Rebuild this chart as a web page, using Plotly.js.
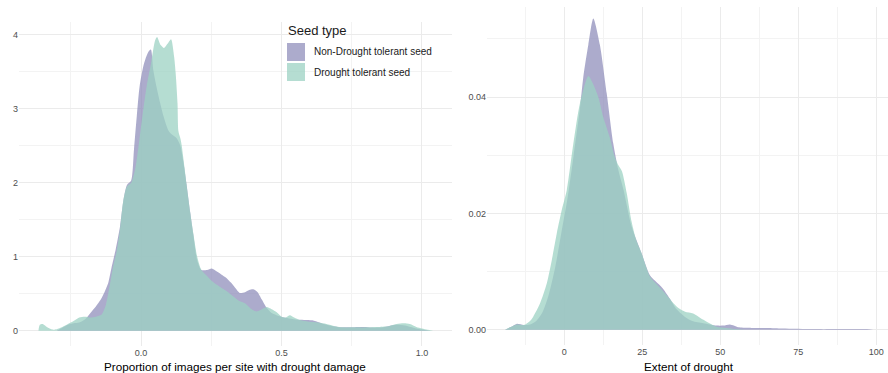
<!DOCTYPE html>
<html>
<head>
<meta charset="utf-8">
<script src="https://cdn.plot.ly/plotly-3.0.1.min.js"></script>
<style>html,body{margin:0;padding:0;background:#fff;}#chart{width:888px;height:373px;}</style>
</head>
<body>
<div id="chart"></div>
<script>
// ---------- DATA ----------
const seriesNames = ["Non-Drought tolerant seed", "Drought tolerant seed"];

// Left panel: proportion of images per site with drought damage (density)
const propNonX = [-0.30,-0.28,-0.26,-0.24,-0.22,-0.20,-0.18,-0.16,-0.145,-0.13,-0.117,-0.105,-0.09,-0.075,-0.063,-0.05,-0.035,-0.025,-0.015,-0.005,0.01,0.025,0.035,0.044,0.055,0.068,0.08,0.097,0.11,0.127,0.14,0.15,0.162,0.175,0.186,0.20,0.215,0.235,0.252,0.27,0.29,0.305,0.32,0.335,0.352,0.37,0.385,0.40,0.415,0.43,0.447,0.465,0.49,0.52,0.55,0.58,0.61,0.635,0.66,0.70,0.74,0.78,0.80,0.83,0.86,0.89,0.91,0.94,0.96,0.98,1.0,1.03];
const propNonY = [0,0.04,0.08,0.10,0.11,0.15,0.24,0.33,0.41,0.52,0.64,0.85,1.1,1.4,1.75,1.97,2.03,2.45,2.9,3.3,3.6,3.76,3.80,3.52,3.3,3.08,2.9,2.71,2.65,2.6,2.5,2.3,1.98,1.6,1.3,0.95,0.82,0.82,0.84,0.80,0.75,0.71,0.65,0.58,0.51,0.52,0.55,0.56,0.52,0.42,0.31,0.24,0.20,0.17,0.15,0.145,0.14,0.11,0.08,0.05,0.046,0.05,0.05,0.04,0.045,0.07,0.08,0.07,0.05,0.03,0.015,0];

const propDtX = [-0.365,-0.36,-0.35,-0.335,-0.315,-0.30,-0.28,-0.26,-0.24,-0.22,-0.20,-0.18,-0.16,-0.14,-0.125,-0.11,-0.10,-0.086,-0.075,-0.063,-0.05,-0.035,-0.02,-0.005,0.005,0.02,0.035,0.05,0.057,0.07,0.082,0.095,0.107,0.118,0.123,0.13,0.133,0.14,0.145,0.155,0.162,0.175,0.186,0.20,0.215,0.235,0.25,0.27,0.29,0.31,0.33,0.35,0.37,0.39,0.41,0.425,0.447,0.465,0.483,0.50,0.515,0.53,0.545,0.57,0.60,0.63,0.66,0.69,0.72,0.76,0.80,0.84,0.88,0.91,0.935,0.957,0.98,1.0,1.02,1.04];
const propDtY = [0,0.08,0.09,0.05,0.015,0.02,0.05,0.09,0.13,0.18,0.19,0.18,0.19,0.22,0.35,0.64,0.85,1.09,1.36,1.76,1.95,2.0,2.2,2.6,2.9,3.3,3.6,3.92,3.97,3.86,3.82,3.88,3.94,3.7,3.5,3.07,2.7,2.6,2.5,2.2,1.98,1.6,1.32,1.0,0.82,0.74,0.68,0.62,0.57,0.52,0.46,0.40,0.37,0.30,0.26,0.28,0.32,0.29,0.25,0.19,0.18,0.21,0.18,0.14,0.12,0.11,0.09,0.06,0.045,0.045,0.045,0.05,0.06,0.09,0.10,0.09,0.05,0.03,0.012,0];

// Right panel: extent of drought (density)
const extNonX = [-19,-17,-15.3,-13,-11,-9,-7,-5,-3,-1,1,3,5,6.1,7.7,9.3,11.4,13.6,15.7,17.3,19,21.6,24.8,27.5,30.7,32,34,36,38.7,41,44.6,48.8,51,53.1,56,60,65,70,80,90,97,99];
const extNonY = [0,0.0005,0.001,0.0008,0.0009,0.0015,0.003,0.006,0.0105,0.0165,0.0225,0.030,0.038,0.0435,0.049,0.0535,0.049,0.0406,0.032,0.0275,0.024,0.0177,0.0131,0.0093,0.0076,0.0068,0.0052,0.0035,0.0022,0.0015,0.0011,0.0007,0.0007,0.0009,0.0004,0.0003,0.0003,0.0002,0.0001,0.0001,0.0001,0];

const extDtX = [-19,-17,-15.3,-13,-11,-10,-7.8,-5.6,-4,-2.4,-0.8,0.8,2.9,5.0,7.7,9,10.9,12.5,14.6,16,17.3,18.5,20,21.6,23,24.8,27.5,30.7,33,36,38.7,41.3,44.6,48.8,52,55,58];
const extDtY = [0,0.0005,0.0009,0.0008,0.0015,0.0022,0.0045,0.008,0.012,0.0166,0.0206,0.024,0.032,0.0389,0.0436,0.0425,0.040,0.0365,0.033,0.030,0.0283,0.0272,0.0235,0.0185,0.0155,0.0131,0.0091,0.0072,0.0058,0.004,0.0031,0.0028,0.0017,0.0005,0.0003,0.0001,0];

// Tick labels
const propTickVals = [0, 0.5, 1.0];
const propTickText = ["0.0", "0.5", "1.0"];
const propMinorVals = [-0.25, 0.25, 0.75];
const densLeftTickVals = [0, 1, 2, 3, 4];
const densLeftTickText = ["0", "1", "2", "3", "4"];
const densLeftMinorVals = [0.5, 1.5, 2.5, 3.5];
const extTickVals = [0, 25, 50, 75, 100];
const extTickText = ["0", "25", "50", "75", "100"];
const extMinorVals = [-12.5, 12.5, 37.5, 62.5, 87.5];
const densRightTickVals = [0, 0.02, 0.04];
const densRightTickText = ["0.00", "0.02", "0.04"];
const densRightMinorVals = [0.01, 0.03, 0.05];

const xTitleLeft = "Proportion of images per site with drought damage";
const xTitleRight = "Extent of drought";
const legendTitle = "Seed type";

// ---------- STYLE ----------
const fillNon = "rgba(144,143,187,0.75)";
const fillDt = "rgba(156,210,195,0.75)";
const grid = "#EBEBEB";
const gridMinor = "#F3F3F3";
const tickFont = {family: "Liberation Sans, Arial, sans-serif", size: 9, color: "#4D4D4D"};

function area(x, y, color, xa, ya, name) {
  return {
    type: "scatter", mode: "lines", x: x, y: y, name: name,
    fill: "tozeroy", fillcolor: color,
    line: {width: 0, shape: "spline", smoothing: 0.7, color: color},
    xaxis: xa, yaxis: ya, showlegend: false, hoverinfo: "x+y+name"
  };
}

const traces = [
  area(propNonX, propNonY, fillNon, "x", "y", seriesNames[0]),
  area(propDtX, propDtY, fillDt, "x", "y", seriesNames[1]),
  area(extNonX, extNonY, fillNon, "x2", "y2", seriesNames[0]),
  area(extDtX, extDtY, fillDt, "x2", "y2", seriesNames[1])
];

function axisBase(extra) {
  return Object.assign({
    showline: false, zeroline: false, ticks: "", showgrid: true,
    gridcolor: grid, gridwidth: 1, tickfont: tickFont, tickmode: "array",
    fixedrange: true
  }, extra);
}

const layout = {
  width: 888, height: 373,
  margin: {l: 0, r: 0, t: 0, b: 0, pad: 0},
  paper_bgcolor: "#fff", plot_bgcolor: "rgba(0,0,0,0)",
  font: {family: "Liberation Sans, Arial, sans-serif"},
  xaxis: axisBase({domain: [19/888, 452/888], range: [-0.4342, 1.1068], anchor: "y",
    tickvals: propTickVals, ticktext: propTickText,
    minor: {tickvals: propMinorVals, showgrid: true, gridcolor: gridMinor, gridwidth: 1}}),
  yaxis: axisBase({domain: [1 - 345.5/373, 1 - 22/373], range: [-0.2, 4.1716], anchor: "x",
    tickvals: densLeftTickVals, ticktext: densLeftTickText,
    minor: {tickvals: densLeftMinorVals, showgrid: true, gridcolor: gridMinor, gridwidth: 1}}),
  xaxis2: axisBase({domain: [487/888, 1], range: [-24.776, 103.75], anchor: "y2",
    tickvals: extTickVals, ticktext: extTickText,
    minor: {tickvals: extMinorVals, showgrid: true, gridcolor: gridMinor, gridwidth: 1}}),
  yaxis2: axisBase({domain: [1 - 345.2/373, 1 - 7/373], range: [-0.002665, 0.05547], anchor: "x2",
    tickvals: densRightTickVals, ticktext: densRightTickText,
    minor: {tickvals: densRightMinorVals, showgrid: true, gridcolor: gridMinor, gridwidth: 1}}),
  shapes: [
    {type: "rect", xref: "paper", yref: "paper", layer: "between",
     x0: 272/888, x1: 445/888, y0: 1 - 103/373, y1: 1 - 18/373,
     fillcolor: "#fff", line: {width: 0}},
    {type: "rect", xref: "paper", yref: "paper", layer: "above",
     x0: 287/888, x1: 305/888, y0: 1 - 61/373, y1: 1 - 43/373,
     fillcolor: fillNon, line: {width: 0}},
    {type: "rect", xref: "paper", yref: "paper", layer: "above",
     x0: 287/888, x1: 305/888, y0: 1 - 81/373, y1: 1 - 63/373,
     fillcolor: fillDt, line: {width: 0}}
  ],
  annotations: [
    {text: legendTitle, xref: "paper", yref: "paper", x: 286/888, y: 1 - 30.5/373,
     xanchor: "left", yanchor: "middle", showarrow: false,
     font: {size: 13, color: "#1A1A1A"}},
    {text: seriesNames[0], xref: "paper", yref: "paper", x: 311.5/888, y: 1 - 52/373,
     xanchor: "left", yanchor: "middle", showarrow: false,
     font: {size: 10, color: "#1A1A1A"}},
    {text: seriesNames[1], xref: "paper", yref: "paper", x: 311.5/888, y: 1 - 72/373,
     xanchor: "left", yanchor: "middle", showarrow: false,
     font: {size: 10, color: "#1A1A1A"}},
    {text: xTitleLeft, xref: "paper", yref: "paper", x: 235.5/888, y: 1 - 366/373,
     xanchor: "center", yanchor: "middle", showarrow: false,
     font: {size: 11.7, color: "#000"}},
    {text: xTitleRight, xref: "paper", yref: "paper", x: 689/888, y: 1 - 366/373,
     xanchor: "center", yanchor: "middle", showarrow: false,
     font: {size: 11.7, color: "#000"}}
  ]
};

Plotly.newPlot("chart", traces, layout, {displayModeBar: false, staticPlot: true});
</script>
</body>
</html>
